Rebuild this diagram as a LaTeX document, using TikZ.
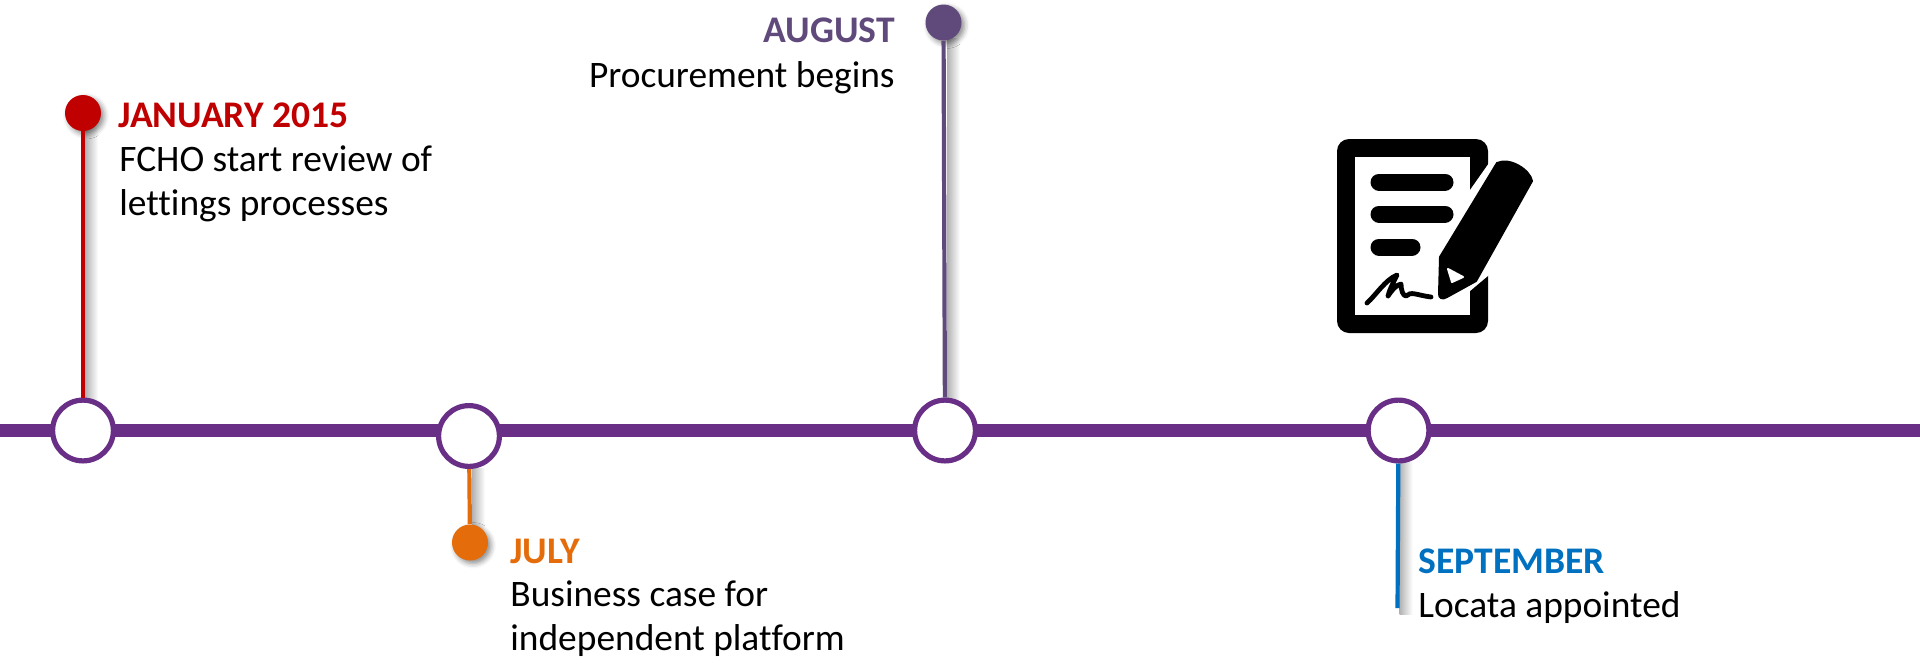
\documentclass[tikz,border=0pt]{standalone}
\usepackage{fontspec}
\setmainfont[Ligatures=NoCommon]{Carlito}
\usetikzlibrary{shadows.blur}
\definecolor{tlpurple}{HTML}{692E85}
\definecolor{tlred}{HTML}{C00000}
\definecolor{tlorange}{HTML}{E46C0A}
\definecolor{tlviolet}{HTML}{604A7B}
\definecolor{tlblue}{HTML}{0070C0}
\tikzset{
  px/.style={x=0.5pt,y=-0.5pt},
  hub/.style={circle,draw=tlpurple,line width=2.6pt,fill=white,minimum size=30.4pt,inner sep=0pt},
  pin/.style={circle,minimum size=18pt,inner sep=0pt,fill=#1,blur shadow={shadow xshift=1.5pt,shadow yshift=-1.5pt,shadow blur radius=2.5pt,shadow opacity=45}},
  stem/.style={draw=#1,line width=2.1pt},
  stemshadow/.style={left color=black!30,middle color=black!16,right color=white},
  head/.style={font=\fontsize{18.8}{22}\selectfont\bfseries,text=#1,inner sep=0pt},
  body/.style={font=\fontsize{18.7}{21.8}\selectfont,text=black,inner sep=0pt,align=left},
  bodyr/.style={font=\fontsize{18.7}{21.8}\selectfont,text=black,inner sep=0pt,align=right},
}
\begin{document}
\begin{tikzpicture}[px]
\useasboundingbox (0,0) rectangle (1920,665);
\coordinate (lineL) at (0,430.3);
\coordinate (lineR) at (1920,430.3);
\coordinate (p4) at (1397.5,608);
% stem shadows
\shade[stemshadow] (85,125) rectangle (98,402);
\shade[stemshadow] (472,468) rectangle (485,530);
\shade[stemshadow] (947,38) rectangle (960,412);
\shade[stemshadow] (1399.5,462) rectangle (1412.5,614);
\draw[tlpurple,line width=6.6pt] (lineL) -- (lineR);
\node[hub] (h1) at (83,430.5) {};
\node[hub] (h2) at (469,436) {};
\node[hub] (h3) at (945,430.5) {};
\node[hub] (h4) at (1398.5,430.5) {};
\node[pin=tlred] (p1) at (83,113) {};
\node[pin=tlorange] (p2) at (470,542.5) {};
\node[pin=tlviolet] (p3) at (943.5,22.5) {};
\draw[stem=tlred] (p1) -- (h1);
\draw[stem=tlorange] (h2) -- (p2);
\draw[stem=tlviolet] (p3) -- (h3);
\draw[stem=tlblue] (h4) -- (p4);
% text
\node[head=tlred,anchor=base west] (t1) at (118,127) {JANUARY 2015};
\node[body,anchor=north west] (b1) at (119,145.5) {FCHO start review of\\lettings processes};
\node[head=tlorange,anchor=base west] (t2) at (510,563.5) {JULY};
\node[body,anchor=north west] (b2) at (510,580.5) {Business case for\\independent platform};
\node[head=tlviolet,anchor=base east] (t3) at (895,42) {AUGUST};
\node[bodyr,anchor=north east] (b3) at (895,61) {Procurement begins};
\node[head=tlblue,anchor=base west] (t4) at (1418,573.5) {SEPTEMBER};
\node[body,anchor=north west] (b4) at (1418,591.5) {Locata appointed};
% icon: document
\fill[black,rounded corners=6pt] (1337,139) rectangle (1488,333);
\fill[white] (1355,157) rectangle (1470,315);
\foreach \yy/\xe in {182/1445,214/1445,247/1412}{
  \draw[black,line width=8.5pt,line cap=round] (1379,\yy) -- (\xe,\yy);
}
% white halo round pencil
\fill[white] (1489,163) -- (1470,190) -- (1470,291) -- (1489,275) -- (1495,275) -- (1495,163) -- cycle;
\fill[black,line join=round,draw=black,line width=1pt] (1440,257) -- (1497,163) .. controls (1510,157) and (1530,170) .. (1532,181) -- (1476,281) -- (1447,297) .. controls (1442,300) and (1439,298) .. (1439,294) -- cycle;
\fill[white,draw=white,line width=1pt,line join=round] (1448,269) -- (1463,277) -- (1452,282) -- cycle;
\draw[black,line width=2.4pt,line cap=round,line join=round] (1367,303) .. controls (1376,295) and (1385,280) .. (1397,275) .. controls (1393,283) and (1389,291) .. (1388,296) .. controls (1392,290) and (1396,285) .. (1401,284) .. controls (1401,290) and (1403,296) .. (1406,296) .. controls (1411,291) and (1416,295) .. (1431,297);
\end{tikzpicture}
\end{document}
